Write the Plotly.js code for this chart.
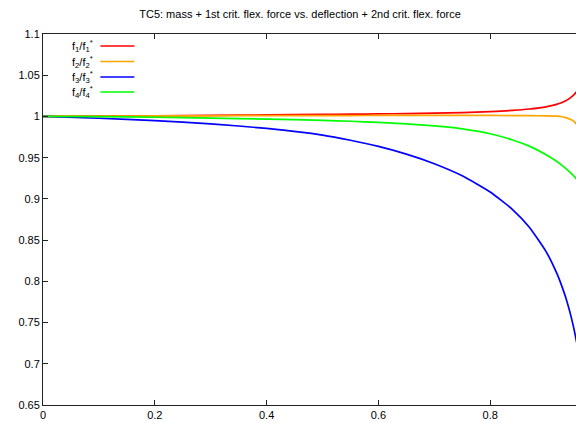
<!DOCTYPE html>
<html>
<head>
<meta charset="utf-8">
<script src="https://cdn.plot.ly/plotly-3.0.1.min.js"></script>
<style>
html,body{margin:0;padding:0;overflow:hidden;background:#fff;width:576px;height:423px;}
#chart{width:620px;height:423px;}
</style>
</head>
<body>
<div id="chart"></div>
<script>
// deflection (x)
const deflection = [0, 0.1, 0.2, 0.3, 0.4, 0.5, 0.55, 0.6, 0.65, 0.7, 0.75, 0.8, 0.84, 0.87, 0.9, 0.92, 0.925, 0.935, 0.945, 0.95, 0.955];
// frequency ratios
const f1ratio = [1.000, 1.0003, 1.0008, 1.0013, 1.0018, 1.0024, 1.0027, 1.0031, 1.0035, 1.0040, 1.0047, 1.0058, 1.0073, 1.0090, 1.0117, 1.0150, 1.0160, 1.0190, 1.0235, 1.0265, 1.0305];
const f2ratio = [1.000, 1.0003, 1.0006, 1.0008, 1.0010, 1.0011, 1.0011, 1.0012, 1.0012, 1.0012, 1.0012, 1.0012, 1.0011, 1.0010, 1.0007, 1.0003, 0.9999, 0.9985, 0.9960, 0.9940, 0.9900];
const f3ratio = [1.000, 0.9978, 0.9950, 0.9910, 0.9855, 0.9774, 0.9711, 0.9636, 0.9543, 0.9427, 0.9280, 0.9084, 0.8871, 0.8657, 0.8361, 0.8085, 0.8000, 0.7806, 0.7563, 0.7417, 0.7248];
const f4ratio = [1.000, 0.9997, 0.9990, 0.9980, 0.9968, 0.9952, 0.9942, 0.9928, 0.9910, 0.9885, 0.9850, 0.9790, 0.9715, 0.9640, 0.9535, 0.9450, 0.9425, 0.9370, 0.9310, 0.9275, 0.9235];

const seriesNames = ["f<sub>1</sub>/f<sub>1</sub><sup>*</sup>", "f<sub>2</sub>/f<sub>2</sub><sup>*</sup>", "f<sub>3</sub>/f<sub>3</sub><sup>*</sup>", "f<sub>4</sub>/f<sub>4</sub><sup>*</sup>"];
const seriesColors = ["#ff0000", "#ffa500", "#0000ff", "#00ff00"];
const seriesData = [f1ratio, f2ratio, f3ratio, f4ratio];

const xTickVals = [0, 0.2, 0.4, 0.6, 0.8];
const xTickText = ["0", "0.2", "0.4", "0.6", "0.8"];
const yTickVals = [0.65, 0.7, 0.75, 0.8, 0.85, 0.9, 0.95, 1, 1.05, 1.1];
const yTickText = ["0.65", "0.7", "0.75", "0.8", "0.85", "0.9", "0.95", "1", "1.05", "1.1"];

const W = 620, H = 423;
const L = 42.5, R = 17.5, T = 34, B = 18;
const pw = W - L - R, ph = H - T - B;
const px2paperX = p => (p - L) / pw;
const px2paperY = p => (H - B - p) / ph;

const traces = seriesData.map((ys, i) => ({
  x: deflection, y: ys, type: 'scatter', mode: 'lines',
  line: {color: seriesColors[i], width: 1.7, shape: 'spline', smoothing: 0.5},
  showlegend: false, hoverinfo: 'skip'
}));

const legendRowsPx = [46, 61.5, 77, 92];
const annotations = [], shapes = [];
seriesNames.forEach((n, i) => {
  const yp = px2paperY(legendRowsPx[i]);
  annotations.push({xref: 'paper', yref: 'paper', x: px2paperX(95), y: yp,
    xanchor: 'right', yanchor: 'middle', text: n, showarrow: false,
    font: {family: 'Liberation Sans, Arial, sans-serif', size: 11, color: '#000'}});
  shapes.push({type: 'line', xref: 'paper', yref: 'paper',
    x0: px2paperX(100), x1: px2paperX(134), y0: yp, y1: yp,
    line: {color: seriesColors[i], width: 1.7}});
});

const axisCommon = {
  showline: true, linecolor: '#222', linewidth: 1, mirror: 'ticks',
  ticks: 'inside', ticklen: 5, tickcolor: '#222', tickwidth: 1,
  showgrid: false, zeroline: false, tickmode: 'array',
  tickfont: {family: 'Liberation Sans, Arial, sans-serif', size: 11, color: '#000'}
};

const layout = {
  width: W, height: H,
  margin: {l: L, r: R, t: T, b: B, pad: 0},
  paper_bgcolor: '#fff', plot_bgcolor: '#fff',
  title: {text: 'TC5: mass + 1st crit. flex. force vs. deflection + 2nd crit. flex. force',
    x: 300 / W, xref: 'container', xanchor: 'center',
    y: 1 - 14 / H, yref: 'container', yanchor: 'middle',
    font: {family: 'Liberation Sans, Arial, sans-serif', size: 11, color: '#000'}},
  xaxis: Object.assign({}, axisCommon, {range: [0, 1], tickvals: xTickVals, ticktext: xTickText}),
  yaxis: Object.assign({}, axisCommon, {range: [0.65, 1.1], tickvals: yTickVals, ticktext: yTickText}),
  annotations: annotations, shapes: shapes
};

Plotly.newPlot('chart', traces, layout, {staticPlot: true, displayModeBar: false});
</script>
</body>
</html>
